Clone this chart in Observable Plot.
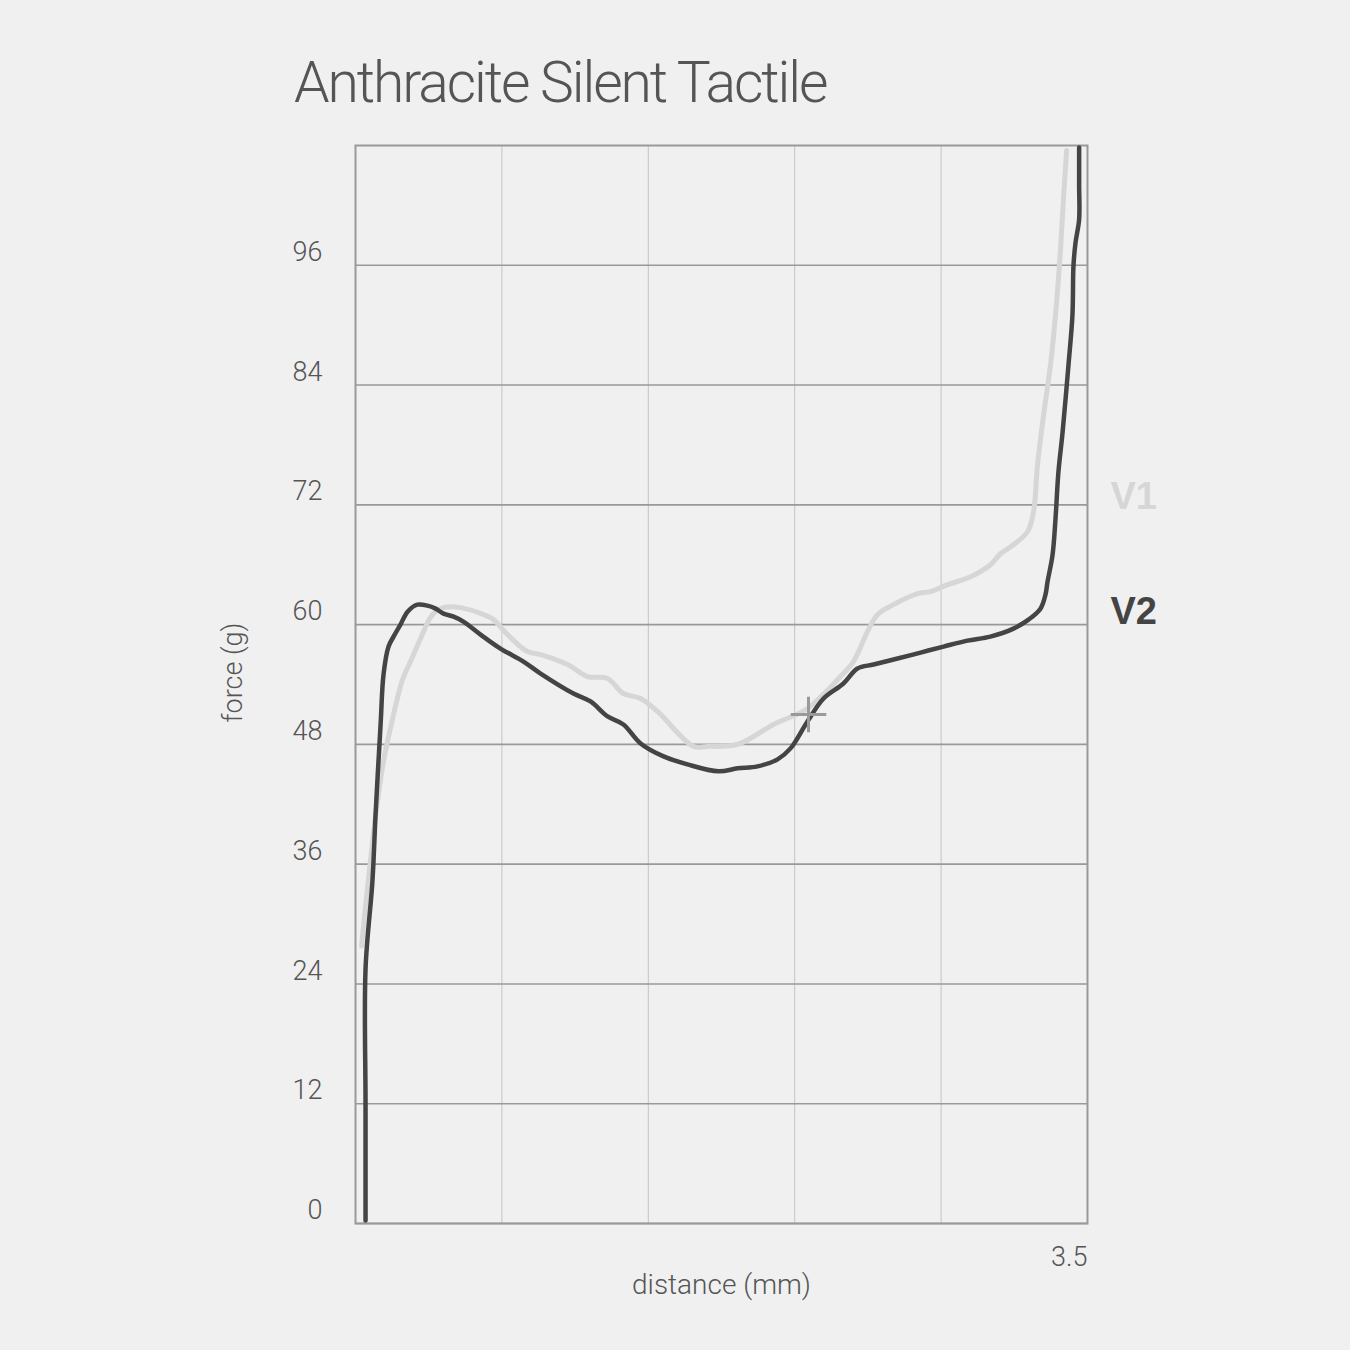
<!DOCTYPE html>
<html>
<head>
<meta charset="utf-8">
<script src="https://cdn.jsdelivr.net/npm/d3@7"></script>
<script src="https://cdn.jsdelivr.net/npm/@observablehq/plot@0.6"></script>
<style>
  html, body { margin: 0; padding: 0; background: #f0f0f0; }
  #wrap { position: relative; width: 1350px; height: 1350px; background: #f0f0f0; }
  #title { position: absolute; left: 294px; top: 54px; margin: 0; font-family: Roboto, "Liberation Sans", sans-serif; font-weight: 300; font-size: 57px; line-height: 1; color: #555; letter-spacing: -2.1px; white-space: nowrap; }
  #chart { position: absolute; left: 0; top: 130px; }
</style>
</head>
<body>
<div id="wrap">
  <h1 id="title">Anthracite Silent Tactile</h1>
  <div id="chart"></div>
</div>
<script>
// distance (mm)
const v1X = [0.029,0.048,0.105,0.134,0.167,0.225,0.263,0.311,0.368,0.421,0.502,0.612,0.660,0.727,0.822,0.885,1.014,1.109,1.205,1.281,1.363,1.444,1.616,1.683,1.827,1.999,2.161,2.319,2.381,2.448,2.496,2.572,2.687,2.749,2.831,2.941,3.036,3.084,3.146,3.213,3.242,3.261,3.290,3.323,3.347,3.371,3.385,3.400];
// force (g)
const v1Y = [27.8,31.8,42.3,46.3,49.6,54.5,56.3,58.6,61.0,61.7,61.7,61.0,60.5,59.0,57.3,57.0,56.0,54.8,54.6,53.1,52.6,51.3,47.8,47.8,48.0,50.0,51.6,54.8,56.3,59.3,61.0,62.0,63.1,63.3,64.0,64.8,66.0,67.1,68.0,69.3,71.3,76.0,81.0,86.0,91.0,97.6,102.6,107.5];

const v2X = [0.048,0.048,0.048,0.081,0.096,0.120,0.134,0.158,0.182,0.215,0.249,0.296,0.344,0.383,0.421,0.469,0.516,0.598,0.693,0.803,0.885,1.042,1.124,1.205,1.281,1.363,1.473,1.587,1.736,1.827,1.922,2.018,2.080,2.161,2.238,2.333,2.400,2.477,2.592,2.702,2.812,2.926,3.036,3.146,3.218,3.275,3.299,3.309,3.333,3.347,3.361,3.381,3.409,3.428,3.433,3.443,3.460,3.460,3.460];
const v2Y = [0.3,12.0,25.5,34.3,41.0,50.0,55.0,57.8,58.8,60.0,61.3,62.0,61.9,61.6,61.1,60.8,60.3,59.0,57.6,56.3,55.1,53.1,52.3,50.8,50.0,48.1,46.8,46.0,45.3,45.6,45.8,46.5,47.6,50.3,52.6,54.1,55.6,56.0,56.6,57.2,57.8,58.4,58.8,59.6,60.5,61.6,63.0,64.3,67.0,70.6,75.3,79.3,86.0,91.0,96.0,98.3,100.6,104.0,107.8];

const seriesNames = ["V1", "V2"];
const labelY = [72.8, 61.3];
const markerX = [2.166];
const markerY = [51.0];

const yTicks = [0, 12, 24, 36, 48, 60, 72, 84, 96];
const xGridTicks = [0.7, 1.4, 2.1, 2.8];
const xTickLabels = [3.5];

const v1 = v1X.map((x, i) => ({x, y: v1Y[i]}));
const v2 = v2X.map((x, i) => ({x, y: v2Y[i]}));
const labels = seriesNames.map((name, i) => ({name, y: labelY[i]}));
const marker = markerX.map((x, i) => ({x, y: markerY[i]}));

const font = "Roboto, 'Liberation Sans', sans-serif";

const chart = Plot.plot({
  width: 1350,
  height: 1220,
  marginTop: 15,
  marginLeft: 355,
  marginRight: 263,
  marginBottom: 127,
  x: {domain: [0, 3.5]},
  y: {domain: [0, 108]},
  style: {background: "#f0f0f0", fontFamily: font, color: "#555", overflow: "visible"},
  marks: [
    Plot.ruleX(xGridTicks, {stroke: "#c4c4c4", strokeWidth: 1}),
    Plot.ruleY(yTicks, {stroke: "#999", strokeWidth: 1.6}),
    Plot.frame({stroke: "#999", strokeWidth: 2}),
    Plot.line(v1, {x: "x", y: "y", stroke: "#d6d6d6", strokeWidth: 5, curve: "catmull-rom"}),
    Plot.line(v2, {x: "x", y: "y", stroke: "#444", strokeWidth: 4.5, curve: "catmull-rom"}),
    Plot.dot(marker, {x: "x", y: "y", symbol: "plus", r: 11.5, stroke: "#999", strokeWidth: 3}),
    Plot.text(labels, {
      x: () => 3.5, y: "y", text: "name", dx: 23, textAnchor: "start", lineAnchor: "middle",
      fontSize: 38, fontWeight: "bold", fontFamily: "'Liberation Sans', Arial, sans-serif",
      fill: (d) => d.name === "V1" ? "#d6d6d6" : "#444"
    }),
    Plot.axisY(yTicks, {tickSize: 0, tickPadding: 33, fontSize: 27, fontWeight: 300, dy: -13, label: null, fill: "#555"}),
    Plot.axisX(xTickLabels, {tickSize: 0, tickPadding: 23, fontSize: 27, fontWeight: 300, textAnchor: "end", label: null, fill: "#555"}),
    Plot.text(["force (g)"], {frameAnchor: "left", dx: -122, dy: -12, rotate: -90, textAnchor: "middle", lineAnchor: "middle", fontSize: 27, fontWeight: 300, fill: "#555"}),
    Plot.text(["distance (mm)"], {frameAnchor: "bottom", dy: 70, textAnchor: "middle", fontSize: 28, fontWeight: 300, fill: "#555"})
  ]
});
document.getElementById("chart").appendChild(chart);
</script>
</body>
</html>
